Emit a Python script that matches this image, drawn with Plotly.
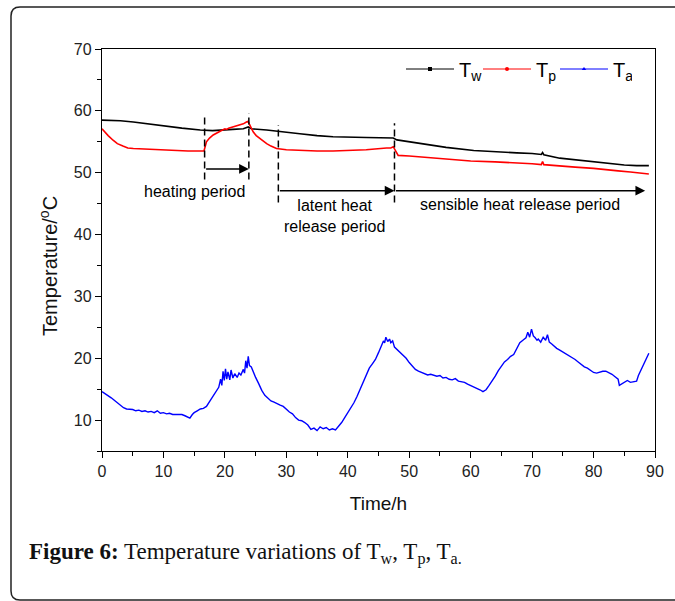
import plotly.graph_objects as go

# ---------------- data ----------------
tw_time = [0, 2, 3, 5.1, 8, 10.5, 13, 16, 18, 21.3, 23, 23.8, 24.3, 26.8, 29, 32.2, 35, 37.6,
           43, 47.4, 48, 51.7, 53.5, 56, 60.5, 64, 67.5, 70, 71.5, 71.7, 71.9, 74.5, 78,
           81.6, 85, 87, 89]
tw_vals = [58.5, 58.5, 58.4, 58.2, 57.8, 57.5, 57.2, 56.9, 56.8, 57.0, 57.1, 57.4, 57.1, 56.9,
           56.7, 56.3, 56.0, 55.8, 55.7, 55.6, 55.3, 54.7, 54.4, 54.1, 53.6, 53.35, 53.2, 53.1,
           52.95, 53.25, 52.9, 52.35, 51.95, 51.6, 51.25, 51.15, 51.15]

tp_time = [0, 0.5, 1, 1.8, 2.5, 3.4, 4.2, 5.1, 7, 9, 10.5, 12, 14, 16, 16.6, 17.0, 17.5, 18.1,
           18.6, 19.2, 19.6, 20.0, 20.3, 20.6, 21.3, 22.4, 23.0, 23.5, 23.8, 24.0, 24.6, 25.1,
           25.7, 26.8, 27.5, 28.4, 30, 32.2, 35, 37.6, 40, 43, 46.3, 47.0, 47.4, 47.7, 48.2,
           50, 53.5, 56, 60, 64, 67.5, 70, 71.5, 71.7, 71.9, 74, 77, 80, 82, 84, 86, 88, 89]
tp_vals = [57.1, 56.5, 56.0, 55.25, 54.7, 54.3, 54.0, 53.9, 53.8, 53.7, 53.6, 53.6, 53.5, 53.5,
           53.5, 55.0, 55.6, 56.1, 56.4, 56.8, 56.9, 57.1, 57.0, 57.2, 57.4, 57.7, 57.9, 58.2,
           58.3, 57.8, 56.6, 56.0, 55.5, 54.7, 54.3, 53.9, 53.7, 53.6, 53.5, 53.5, 53.6, 53.7,
           54.0, 54.0, 54.2, 53.7, 52.8, 52.7, 52.4, 52.2, 51.9, 51.75, 51.6, 51.45, 51.3, 51.8,
           51.3, 51.1, 50.9, 50.7, 50.55, 50.3, 50.1, 49.9, 49.8]

ta_time = [0, 0.5, 1, 1.5, 2, 2.5, 3, 3.5, 4, 5, 5.5, 6, 6.5, 7, 7.5, 8, 8.5, 9, 9.5, 10, 10.5,
           11, 11.5, 12, 12.5, 13, 13.5, 14, 14.3, 14.7, 15, 15.5, 16, 16.5, 17, 17.5, 18, 18.5,
           19, 19.3, 19.5, 19.7, 19.9, 20.1, 20.3, 20.5, 20.8, 21, 21.3, 21.6, 22, 22.3, 22.6,
           23, 23.2, 23.4, 23.6, 23.8, 24, 24.3, 24.6, 25, 25.5, 26, 26.5, 27, 27.5, 28, 28.5,
           29, 29.5, 30, 30.5, 31, 31.5, 32, 32.5, 33, 33.5, 34, 34.5, 35, 35.5, 36, 36.5, 37,
           37.5, 38, 38.5, 39, 39.5, 40, 40.5, 41, 41.5, 42, 42.5, 43, 43.5, 44, 44.5, 45, 45.5,
           45.8, 46, 46.2, 46.5, 46.8, 47, 47.3, 47.6, 48, 48.5, 49, 49.5, 50, 50.5, 51, 51.5,
           52, 52.5, 53, 53.5, 54, 54.5, 55, 55.5, 56, 56.5, 57, 57.5, 58, 58.5, 59, 59.5, 60,
           60.5, 61, 61.5, 62, 62.5, 63, 63.5, 64, 64.5, 65, 65.5, 66, 66.5, 67, 67.5, 68, 68.5,
           69, 69.3, 69.6, 69.9, 70.2, 70.5, 70.8, 71, 71.4, 71.8, 72.2, 72.5, 72.8, 73.2, 73.6,
           74, 74.5, 75, 75.5, 76, 76.5, 77, 77.5, 78, 78.5, 79, 79.5, 80, 80.5, 81, 81.5, 82,
           82.5, 83, 83.5, 84, 84.2, 84.5, 85, 85.5, 86, 86.5, 87, 87.3, 87.7, 88, 88.5, 89]
ta_vals = [14.6, 14.3, 14.0, 13.6, 13.2, 12.8, 12.3, 12.0, 11.8, 11.7, 11.5, 11.6, 11.4, 11.5,
           11.3, 11.4, 11.2, 11.5, 11.1, 11.2, 11.0, 11.1, 10.9, 10.9, 10.8, 10.9, 10.7, 10.5,
           10.3, 10.9, 11.2, 11.5, 11.8, 11.9, 12.2, 13.0, 13.8, 14.6, 15.3, 16.6, 15.6, 17.9,
           16.4, 18.3, 16.6, 17.8, 16.5, 18.1, 16.8, 17.5, 16.9, 17.6, 17.3, 18.2, 17.6, 19.6,
           18.4, 20.3, 18.8, 18.6, 17.8, 16.9, 15.9, 14.8, 14.0, 13.6, 13.1, 12.9, 12.6, 12.4,
           12.2, 11.7, 11.3, 11.0, 10.4, 10.0, 9.9, 9.6, 9.2, 8.5, 8.7, 8.3, 8.9, 8.6, 8.8, 8.4,
           8.6, 8.4, 9.0, 9.6, 10.4, 11.2, 11.9, 12.8, 13.8, 15.0, 16.2, 17.4, 18.4, 19.1, 19.8,
           20.9, 22.0, 22.8, 22.5, 23.4, 22.7, 23.1, 22.5, 22.8, 21.8, 21.4, 21.0, 20.5, 20.0,
           19.3, 18.8, 18.2, 17.9, 17.7, 17.4, 17.3, 17.4, 17.2, 17.1, 17.2, 16.8, 16.9, 16.6,
           16.5, 16.7, 16.3, 16.2, 16.1, 15.8, 15.6, 15.4, 15.1, 14.9, 14.6, 14.9, 15.6, 16.3,
           17.1, 18.0, 18.8, 19.4, 19.8, 20.3, 20.6, 21.6, 22.5, 22.9, 23.3, 24.2, 23.4, 24.7,
           23.6, 23.3, 22.9, 23.1, 22.6, 23.4, 22.9, 23.8, 22.6, 22.3, 21.9, 21.6, 21.3, 21.0,
           20.7, 20.5, 20.2, 19.8, 19.4, 19.0, 18.6, 18.4, 18.0, 17.7, 17.6, 17.8, 17.9, 17.9,
           17.7, 17.4, 17.0, 16.6, 15.6, 15.8, 16.2, 16.4, 16.1, 16.2, 16.3, 17.2, 18.0, 18.8,
           19.7, 20.8]

x_ticks = [0, 10, 20, 30, 40, 50, 60, 70, 80, 90]
y_ticks = [10, 20, 30, 40, 50, 60, 70]

# period boundaries (h)
heat_start, heat_end = 16.7, 23.9
latent_start, latent_end = 28.7, 47.6
sensible_end = 88.4

# ---------------- figure ----------------
W, H = 675, 601
ML, MR, MT, MB = 102, 20, 49, 150
PW, PH = W - ML - MR, H - MT - MB

def px2paper(px, py):
    return (px - ML) / PW, (H - MB - py) / PH

font_sans = "Liberation Sans, Arial, sans-serif"

fig = go.Figure()
fig.add_trace(go.Scatter(x=tw_time, y=tw_vals, mode="lines", line=dict(color="#000000", width=1.6),
                         showlegend=False))
fig.add_trace(go.Scatter(x=tp_time, y=tp_vals, mode="lines", line=dict(color="#ff0000", width=1.6),
                         showlegend=False))
fig.add_trace(go.Scatter(x=ta_time, y=ta_vals, mode="lines", line=dict(color="#0000ff", width=1.4),
                         showlegend=False))

# legend entries
for name, col, sym in [("T<sub>w</sub>", "#000000", "square"),
                       ("T<sub>p</sub>", "#ff0000", "circle"),
                       ("T<sub>a</sub>", "#0000ff", "triangle-up")]:
    fig.add_trace(go.Scatter(x=[None], y=[None], mode="lines+markers", name=name,
                             line=dict(color=col, width=1), marker=dict(color=col, symbol=sym, size=4)))

# dashed boundaries
dash_lines = [(heat_start, 59.4, 48.9), (heat_end, 59.6, 48.9),
              (latent_start, 57.7, 45.2), (latent_end, 58.0, 45.2)]
for x0, ya, yb in dash_lines:
    fig.add_shape(type="line", x0=x0, x1=x0, y0=yb, y1=ya, xref="x", yref="y",
                  line=dict(color="black", width=1.5, dash="7px,4px"))

# arrows
arrows = [(heat_start, heat_end, 50.6), (latent_start, latent_end, 47.1),
          (latent_end, sensible_end, 47.1)]
for xs, xe, yy in arrows:
    fig.add_annotation(x=xe, y=yy, ax=xs, ay=yy, xref="x", yref="y", axref="x", ayref="y",
                       text="", showarrow=True, arrowhead=2, arrowsize=1.3, arrowwidth=1.5,
                       arrowcolor="black")

tfont = dict(family=font_sans, size=16, color="black")
fig.add_annotation(x=15.1, y=47.0, text="heating period", showarrow=False, font=tfont)
fig.add_annotation(x=37.9, y=43.0, text="latent heat<br>release period", showarrow=False, font=tfont)
fig.add_annotation(x=68.0, y=44.8, text="sensible heat release period", showarrow=False, font=tfont)

# y-axis title (placed as in the reference, slightly below the axis centre)
tx, ty = px2paper(48, 266)
fig.add_annotation(x=tx, y=ty, xref="paper", yref="paper", xanchor="center", yanchor="middle",
                   showarrow=False, textangle=-90, text="Temperature/<sup>o</sup>C",
                   font=dict(family=font_sans, size=20, color="#111111"))

# caption
cx, cy = px2paper(27, 553)
fig.add_annotation(x=cx, y=cy, xref="paper", yref="paper", xanchor="left", yanchor="middle",
                   showarrow=False,
                   text="<b>Figure 6:</b> Temperature variations of T<sub>w</sub>, T<sub>p</sub>, T<sub>a.</sub>",
                   font=dict(family="Liberation Serif, Times New Roman, serif", size=23, color="#111111"))

# outer rounded frame (top and left edges only; the right and bottom run off the page)
L, T, RFAR, B, r = 11, 7, 720, 600, 9
def P(px, py):
    a, b = px2paper(px, py)
    return f"{a:.5f},{b:.5f}"
path = (f"M{P(RFAR, T)} L{P(L + r, T)} Q{P(L, T)} {P(L, T + r)} "
        f"L{P(L, B - r)} Q{P(L, B)} {P(L + r, B)} L{P(RFAR, B)}")
fig.add_shape(type="path", path=path, xref="paper", yref="paper",
              line=dict(color="#222222", width=1.5), fillcolor="rgba(0,0,0,0)", layer="below")

axis_common = dict(showline=True, linecolor="black", linewidth=1.3, mirror=True,
                   ticks="outside", ticklen=6, tickwidth=1.3, tickcolor="black",
                   showgrid=False, zeroline=False, automargin=False,
                   tickfont=dict(family=font_sans, size=16, color="#222222"))

fig.update_xaxes(range=[0, 90], tickvals=x_ticks, **axis_common,
                 minor=dict(ticks="outside", ticklen=4, dtick=5, tick0=0, tickcolor="black", tickwidth=1.3),
                 title=dict(text="Time/h", font=dict(family=font_sans, size=19, color="#111111"), standoff=17))
fig.update_yaxes(range=[5, 70], tickvals=y_ticks, **axis_common,
                 minor=dict(ticks="outside", ticklen=4, dtick=5, tick0=0, tickcolor="black", tickwidth=1.3))

lx, ly = px2paper(401, 69)
fig.update_layout(
    width=W, height=H, margin=dict(l=ML, r=MR, t=MT, b=MB, autoexpand=False),
    paper_bgcolor="white", plot_bgcolor="white",
    font=dict(family=font_sans, color="black"),
    legend=dict(orientation="h", x=lx, y=ly, xanchor="left", yanchor="middle",
                bgcolor="rgba(0,0,0,0)", font=dict(family=font_sans, size=20, color="black"),
                itemwidth=48, entrywidth=14, entrywidthmode="pixels", tracegroupgap=0),
)

fig.write_html("out.html", config={"displayModeBar": False},
               post_script="document.body.style.margin='0px';")
